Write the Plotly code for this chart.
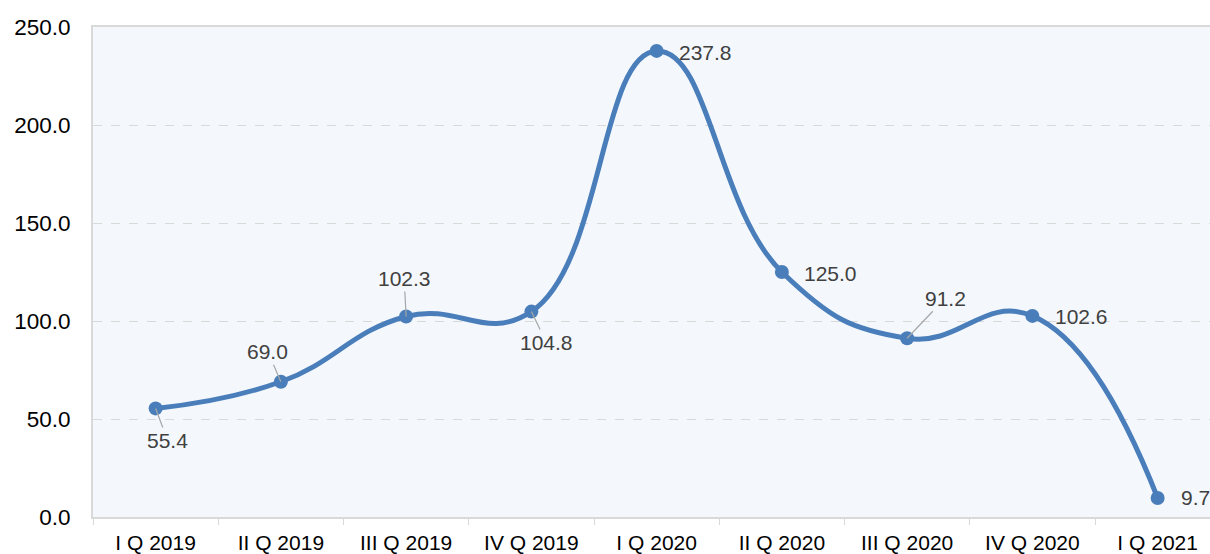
import plotly.graph_objects as go

categories = ["I Q 2019", "II Q 2019", "III Q 2019", "IV Q 2019", "I Q 2020",
              "II Q 2020", "III Q 2020", "IV Q 2020", "I Q 2021"]
values = [55.4, 69.0, 102.3, 104.8, 237.8, 125.0, 91.2, 102.6, 9.7]
y_ticks = [0, 50, 100, 150, 200, 250]
y_tick_labels = ["0.0", "50.0", "100.0", "150.0", "200.0", "250.0"]

# label offsets in pixels (ax, ay) and whether a leader line is drawn
label_offsets = [(12, 32, True), (-13, -30, True), (-2, -38, True), (15, 31, True),
                 (49, 2, False), (49, 1, False), (38, -40, True), (49, 1, False), (38, 0, False)]

LINE = "#4a7ebb"
GRID = "#d9d9d9"
FONT = "Liberation Sans, Arial"

fig = go.Figure()
fig.add_trace(go.Scatter(
    x=categories, y=values, mode="lines+markers",
    line=dict(color=LINE, width=5, shape="spline", smoothing=1.3),
    marker=dict(color=LINE, size=14),
    hoverinfo="skip", showlegend=False,
))

for cat, val, (ax, ay, lead) in zip(categories, values, label_offsets):
    if lead:
        fig.add_annotation(x=cat, y=val, text=f"{val:.1f}", showarrow=True,
                           arrowhead=0, arrowwidth=1.2, arrowcolor="#a6a6a6",
                           ax=ax, ay=ay, standoff=0,
                           font=dict(family=FONT, size=21, color="#404040"))
    else:
        fig.add_annotation(x=cat, y=val, text=f"{val:.1f}", showarrow=False,
                           xshift=ax, yshift=-ay,
                           font=dict(family=FONT, size=21, color="#404040"))

fig.update_layout(
    width=1210, height=554,
    margin=dict(l=93, r=0, t=27, b=35),
    paper_bgcolor="white", plot_bgcolor="#f4f8fc",
    font=dict(family=FONT, size=21, color="#000000"),
)
fig.update_xaxes(
    type="category", range=[-0.5, 8.418],
    showline=True, linecolor=GRID, linewidth=2, mirror=True,
    ticks="outside", tickson="boundaries", ticklen=6, tickcolor=GRID, tickwidth=1,
    showgrid=False, ticklabelstandoff=6,
    tickfont=dict(size=21, color="#000000"),
)
fig.update_yaxes(
    range=[0, 250], tickvals=y_ticks, ticktext=y_tick_labels,
    showline=True, linecolor=GRID, linewidth=2,
    showgrid=True, gridcolor=GRID, griddash="dash", gridwidth=1,
    zeroline=False, ticks="", ticklabelstandoff=16,
    tickfont=dict(size=22.5, color="#000000"),
)

fig.write_html("out.html", config={"displayModeBar": False},
               post_script="document.body.style.margin='0';document.body.style.overflow='hidden';")
